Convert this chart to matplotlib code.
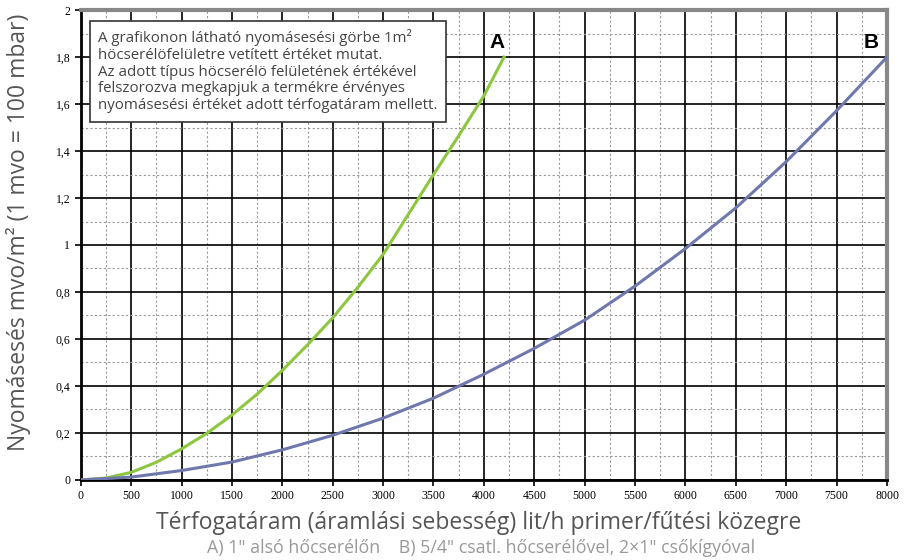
import matplotlib
matplotlib.use("Agg")
import matplotlib.pyplot as plt
from matplotlib.ticker import MultipleLocator, FuncFormatter

# curve A: 1" also hocserelon
a_x = [0, 250, 500, 750, 1000, 1250, 1500, 1750, 2000, 2250, 2500, 2750, 3000, 3250, 3500, 3750, 4000, 4200]
a_y = [0, 0.008, 0.032, 0.075, 0.132, 0.198, 0.276, 0.365, 0.466, 0.575, 0.69, 0.82, 0.96, 1.13, 1.3, 1.465, 1.635, 1.8]
# curve B: 5/4" csatl. hocserelovel
b_x = [0, 500, 1000, 1500, 2000, 2500, 3000, 3500, 4000, 4500, 5000, 5500, 6000, 6500, 7000, 7500, 8000]
b_y = [0, 0.012, 0.04, 0.076, 0.128, 0.19, 0.263, 0.348, 0.45, 0.56, 0.68, 0.825, 0.985, 1.158, 1.355, 1.572, 1.8]

note = ("A grafikonon látható nyomásesési görbe 1m²\n"
        "höcserélöfelületre vetített értéket mutat.\n"
        "Az adott típus höcserélö felületének értékével\n"
        "felszorozva megkapjuk a termékre érvényes\n"
        "nyomásesési értéket adott térfogatáram mellett.")

fig = plt.figure(figsize=(9.07, 5.6), dpi=100)
ax = fig.add_axes([0.089, 0.143, 0.889, 0.839])

ax.plot(a_x, a_y, color="#8dc63f", lw=2.2, zorder=3)
ax.plot(b_x, b_y, color="#6f78ad", lw=2.2, zorder=3)

ax.set_xlim(0, 8000)
ax.set_ylim(0, 2)
ax.xaxis.set_major_locator(MultipleLocator(500))
ax.xaxis.set_minor_locator(MultipleLocator(250))
ax.yaxis.set_major_locator(MultipleLocator(0.2))
ax.yaxis.set_minor_locator(MultipleLocator(0.1))
ax.grid(which="major", color="black", lw=1.2, zorder=1)
ax.grid(which="minor", color="#999999", lw=0.8, ls=(0, (2, 2)), zorder=1)
ax.yaxis.set_major_formatter(FuncFormatter(lambda v, p: ("%g" % round(v, 1)).replace(".", ",")))
ax.tick_params(which="major", length=4, width=1.2, labelsize=8.5, color="black")
ax.tick_params(which="minor", length=0)
for lab in ax.get_xticklabels() + ax.get_yticklabels():
    lab.set_fontfamily("Liberation Serif")

ax.spines["left"].set_linewidth(2)
ax.spines["bottom"].set_linewidth(2)
for s in ["top", "right"]:
    ax.spines[s].set_color("#888888")
    ax.spines[s].set_linewidth(3)

ax.text(4130, 1.82, "A", fontsize=15, fontweight="bold", family="Liberation Sans", ha="center", va="bottom")
ax.text(7840, 1.82, "B", fontsize=15, fontweight="bold", family="Liberation Sans", ha="center", va="bottom")

ax.text(0.022, 0.96, note, transform=ax.transAxes, fontsize=10.8, family="Open Sans", color="#444444",
        va="top", ha="left", linespacing=1.17, zorder=5,
        bbox=dict(boxstyle="square,pad=0.55", fc="white", ec="#333333", lw=1.2))

fig.text(0.02, 0.586, "Nyomásesés mvo/m² (1 mvo = 100 mbar)", rotation=90, fontsize=16.5,
         family="Open Sans", color="#555555", ha="center", va="center")
fig.text(0.528, 0.066, "Térfogatáram (áramlási sebesség) lit/h primer/fűtési közegre", fontsize=16.5,
         family="Open Sans", color="#555555", ha="center", va="center")
fig.text(0.53, 0.021, 'A) 1" alsó hőcserélőn    B) 5/4" csatl. hőcserélővel, 2×1" csőkígyóval', fontsize=12.8,
         family="Open Sans", color="#999999", ha="center", va="center")

fig.savefig("out.png", dpi=100)
